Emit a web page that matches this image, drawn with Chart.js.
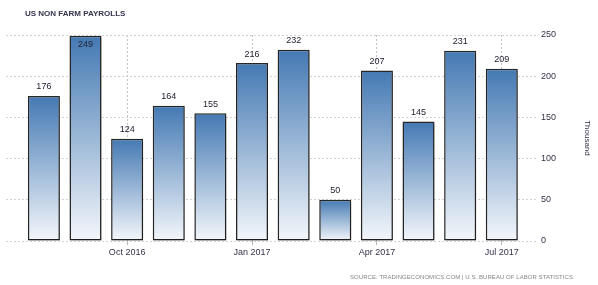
<!DOCTYPE html>
<html>
<head>
<meta charset="utf-8">
<script src="https://cdn.jsdelivr.net/npm/chart.js@4/dist/chart.umd.min.js"></script>
<style>
  html, body { margin: 0; padding: 0; background: #fff; }
  #wrap { position: relative; width: 598px; height: 285px; overflow: hidden; }
  #title { position: absolute; left: 25px; top: 9px; font: bold 8px "Liberation Sans", Arial, sans-serif; line-height: 10px; color: #34344f; white-space: nowrap; }
  #source { position: absolute; right: 25px; top: 273px; font: 6px "Liberation Sans", Arial, sans-serif; line-height: 8px; color: #868686; white-space: nowrap; letter-spacing: 0.06px; }
  canvas { position: absolute; left: 0; top: 0; }
</style>
</head>
<body>
<div id="wrap">
  <canvas id="c" width="598" height="285"></canvas>
  <div id="title">US NON FARM PAYROLLS</div>
  <div id="source">SOURCE: TRADINGECONOMICS.COM | U.S. BUREAU OF LABOR STATISTICS</div>
</div>
<script>
const months = ['Aug 2016','Sep 2016','Oct 2016','Nov 2016','Dec 2016','Jan 2017','Feb 2017','Mar 2017','Apr 2017','May 2017','Jun 2017','Jul 2017'];
const payrolls = [176, 249, 124, 164, 155, 216, 232, 50, 207, 145, 231, 209];
const xTickLabels = ['Oct 2016','Jan 2017','Apr 2017','Jul 2017'];
const yTickStep = 50;
const yMax = 250;

const xTickValues = xTickLabels.map(l => months.indexOf(l));
const points = payrolls.map((v, i) => ({ x: i, y: v }));

const barStyle = {
  beforeDatasetsDraw(chart) {
    const ctx = chart.ctx;
    ctx.save();
    ctx.shadowColor = 'rgba(0,0,0,0.25)';
    ctx.shadowOffsetX = 1;
    ctx.shadowOffsetY = 2;
    ctx.shadowBlur = 2;
  },
  afterDatasetsDraw(chart) {
    const ctx = chart.ctx;
    ctx.restore();
    ctx.save();
    ctx.font = '9px "Liberation Sans", Arial, sans-serif';
    ctx.fillStyle = '#222233';
    ctx.textAlign = 'center';
    ctx.textBaseline = 'middle';
    const meta = chart.getDatasetMeta(0);
    meta.data.forEach((el, i) => {
      let y = el.y - 9;
      if (y - 5 < chart.chartArea.top) y = el.y + 9;
      ctx.fillText(String(payrolls[i]), el.x, y);
    });
    ctx.restore();
  }
};

new Chart(document.getElementById('c'), {
  type: 'bar',
  data: {
    datasets: [{
      data: points,
      borderColor: '#262626',
      borderWidth: 1.5,
      borderSkipped: false,
      barPercentage: 0.77,
      categoryPercentage: 1,
      backgroundColor: (c) => {
        const chart = c.chart;
        const { ctx, chartArea } = chart;
        if (!chartArea || !c.raw) return '#4a80b8';
        const ys = chart.scales.y;
        const top = ys.getPixelForValue(c.raw.y);
        const bottom = ys.getPixelForValue(0);
        const g = ctx.createLinearGradient(0, top, 0, bottom);
        g.addColorStop(0, '#4479b3');
        g.addColorStop(1, '#f4f7fb');
        return g;
      }
    }]
  },
  options: {
    responsive: false,
    animation: false,
    layout: { padding: { left: 6, top: 35, right: 0, bottom: 0 } },
    plugins: { legend: { display: false }, tooltip: { enabled: false } },
    scales: {
      x: {
        type: 'linear',
        offset: false,
        min: -0.91,
        max: 11.87,
        afterBuildTicks: (s) => { s.ticks = xTickValues.map(v => ({ value: v })); },
        afterFit: (s) => { s.height = 44; },
        border: { display: false, dash: [2, 2] },
        grid: {
          offset: false,
          drawOnChartArea: true,
          color: '#c4c4c4',
          lineWidth: 1,
          tickLength: 4,
          tickColor: '#b8b8b8',
          tickBorderDash: [],
          drawTicks: true
        },
        ticks: {
          autoSkip: false,
          maxRotation: 0,
          padding: 2,
          color: '#33334a',
          font: { family: '"Liberation Sans", Arial, sans-serif', size: 9 },
          callback: (v) => { const k = xTickValues.indexOf(v); return k >= 0 ? xTickLabels[k] : ''; }
        }
      },
      y: {
        position: 'right',
        min: 0,
        max: yMax,
        afterFit: (s) => { s.width = 60; },
        border: { display: false, dash: [2, 2] },
        grid: { color: '#d2d2d2', drawTicks: false },
        ticks: {
          stepSize: yTickStep,
          padding: 3,
          color: '#33334a',
          font: { family: '"Liberation Sans", Arial, sans-serif', size: 9 }
        },
        title: {
          display: true,
          text: 'Thousand',
          color: '#33334a',
          font: { family: '"Liberation Sans", Arial, sans-serif', size: 8 },
          padding: { top: 6, bottom: 20 }
        }
      }
    }
  },
  plugins: [barStyle]
});
</script>
</body>
</html>
